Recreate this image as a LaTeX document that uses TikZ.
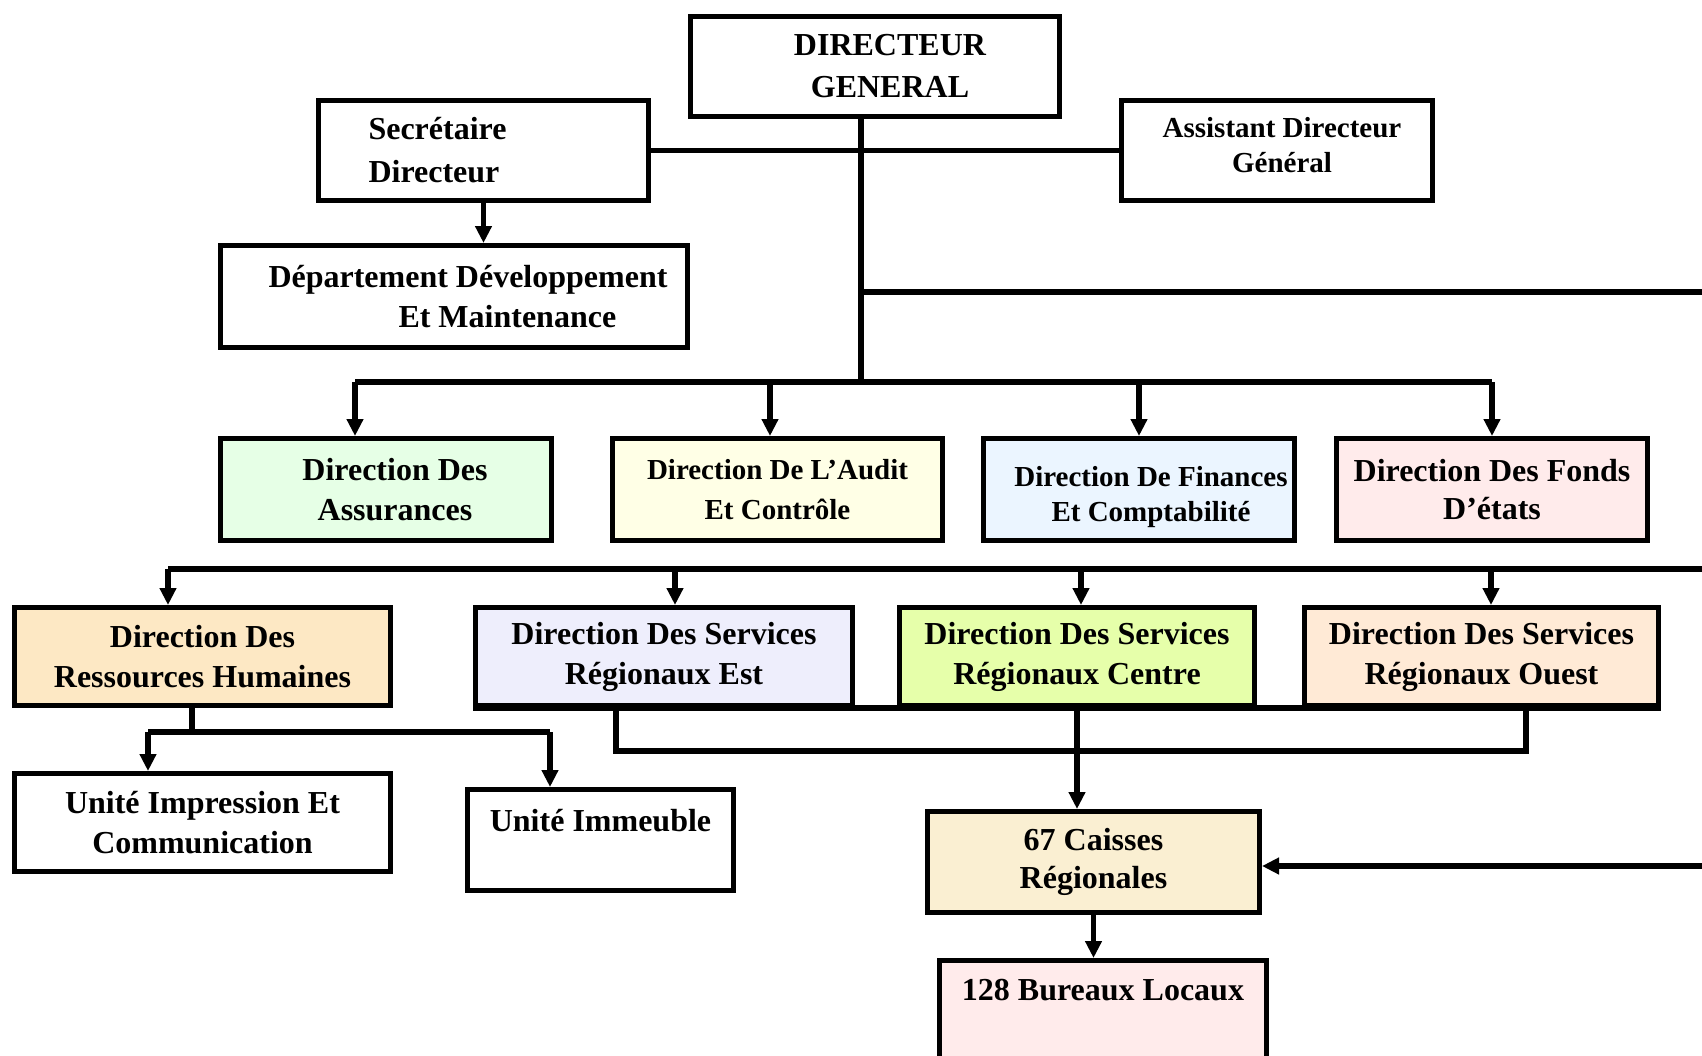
\documentclass[tikz,border=0pt]{standalone}
\usepackage{fontspec}
\setmainfont{Liberation Serif}
\usetikzlibrary{arrows.meta}

\definecolor{assGreen}{RGB}{230,255,230}
\definecolor{audYellow}{RGB}{255,255,230}
\definecolor{finBlue}{RGB}{235,245,255}
\definecolor{fonPink}{RGB}{255,235,235}
\definecolor{rhWheat}{RGB}{253,232,196}
\definecolor{estLav}{RGB}{238,238,252}
\definecolor{cenLime}{RGB}{230,255,170}
\definecolor{oueLinen}{RGB}{255,234,214}
\definecolor{caiCream}{RGB}{250,239,210}

\tikzset{
  box/.style={draw, line width=2.5pt, inner sep=0pt, align=center,
    font=\bfseries\fontsize{16}{20}\selectfont},
  smalltext/.style={font=\bfseries\fontsize{14.5}{17.5}\selectfont},
  conn/.style={line width=2.6pt},
  arr/.style={conn, -{Triangle[length=8.5pt,width=8pt]}},
}

\begin{document}
\begin{tikzpicture}[x=0.5pt,y=-0.5pt]
\useasboundingbox (0,0) rectangle (1702,1055);
\clip (0,0) rectangle (1702,1055);

% top level
\node[box, minimum width=184.5pt, minimum height=50pt, font=\bfseries\fontsize{16}{21}\selectfont] (dg) at (875,66.5)
  {\hspace*{15pt}DIRECTEUR\\\hspace*{15pt}GENERAL};
\node[box, minimum width=165pt, minimum height=50pt, align=left, text width=115pt,
  font=\bfseries\fontsize{16}{21.5}\selectfont] (sec) at (483.5,150.5) {Secrétaire\\Directeur};
\node[box, smalltext, minimum width=155.5pt, minimum height=50pt] (adg) at (1277,150.5)
  {\hspace*{5pt}Assistant Directeur\rule{0pt}{13pt}\\\hspace*{5pt}Général\rule[-9pt]{0pt}{9pt}};
\node[box, minimum width=233.5pt, minimum height=51pt, align=left] (dep) at (454,296.5)
  {\hspace*{14pt}Département Développement\\\hspace*{79pt}Et Maintenance};

% directions
\node[box, fill=assGreen, minimum width=165.5pt, minimum height=51pt] (ass) at (386,489.5)
  {\hspace*{9pt}Direction Des\\\hspace*{9pt}Assurances};
\node[box, fill=audYellow, minimum width=165pt, minimum height=51pt,
  font=\bfseries\fontsize{14.5}{20}\selectfont] (aud) at (777.5,489.5) {Direction De L’Audit\\Et Contrôle};
\node[box, smalltext, fill=finBlue, minimum width=155.5pt, minimum height=51pt] (fin) at (1139,489.5)
  {\hspace*{12pt}Direction De Finances\rule{0pt}{18pt}\\\hspace*{12pt}Et Comptabilité};
\node[box, fill=fonPink, minimum width=155.5pt, minimum height=51pt,
  font=\bfseries\fontsize{16}{19}\selectfont] (fon) at (1492,489.5) {Direction Des Fonds\\D’états};

\begin{scope}[every node/.append style={minimum height=49pt, font=\bfseries\fontsize{16}{18}\selectfont}]
\node[box, fill=rhWheat, minimum width=188pt] (rh) at (202.5,656.5) {Direction Des\\Ressources Humaines};
\node[box, fill=estLav, minimum width=188.5pt] (est) at (664,656.5) {Direction Des Services\\Régionaux Est};
\node[box, fill=cenLime, minimum width=177.5pt] (cen) at (1077,656.5) {Direction Des Services\\Régionaux Centre};
\node[box, fill=oueLinen, minimum width=177pt] (oue) at (1481.5,656.5) {Direction Des Services\\Régionaux Ouest};
\end{scope}

% units and regional offices
\node[box, minimum width=188pt, minimum height=49pt] (imp) at (202.5,822.5) {Unité Impression Et\\Communication};
\node[box, minimum width=133pt, minimum height=50.5pt] (imm) at (600.5,840) {Unité Immeuble\\~};
\node[box, fill=caiCream, minimum width=166pt, minimum height=50.5pt,
  font=\bfseries\fontsize{16}{19}\selectfont] (cai) at (1093.5,862) {67 Caisses\\Régionales};
\node[box, fill=fonPink, minimum width=163.5pt, minimum height=49.5pt] (bur) at (1103,1010) {128 Bureaux Locaux\\~};

% connectors
\coordinate (spine) at (861,382);
\draw[conn] (dg.south -| spine) -- (spine);
\draw[conn] (sec.east) -- (adg.west);
\coordinate (feedR) at (1702,292);
\draw[conn] (spine |- feedR) -- (feedR);
\draw[arr] (sec.south) -- (sec.south |- dep.north);

\coordinate (b1l) at (355,382);
\coordinate (b1a) at (770,382);
\draw[conn] (b1l) -- (fon.north |- b1l);
\draw[arr] (b1l) -- (b1l |- ass.north);
\draw[arr] (b1a) -- (b1a |- aud.north);
\draw[arr] (fin.north |- b1l) -- (fin.north);
\draw[arr] (fon.north |- b1l) -- (fon.north);

\coordinate (b2l) at (168,569);
\coordinate (b2e) at (675,569);
\coordinate (b2c) at (1081,569);
\coordinate (b2o) at (1491,569);
\coordinate (b2r) at (1702,569);
\draw[conn] (b2l) -- (b2r);
\draw[arr] (b2l) -- (b2l |- rh.north);
\draw[arr] (b2e) -- (b2e |- est.north);
\draw[arr] (b2c) -- (b2c |- cen.north);
\draw[arr] (b2o) -- (b2o |- oue.north);

\coordinate (rhl) at (148,732);
\coordinate (rhr) at (550,732);
\draw[conn] (rh.south -| 192,0) -- (192,732);
\draw[conn] (rhl) -- (rhr);
\draw[arr] (rhl) -- (rhl |- imp.north);
\draw[arr] (rhr) -- (rhr |- imm.north);

\coordinate (regl) at (616,751);
\coordinate (regr) at (1526,751);
\draw[conn] (est.south west) -- (oue.south east);
\draw[conn] (regl |- est.south) -- (regl) -- (regr) -- (regr |- oue.south);
\draw[arr] (cen.south) -- (cen.south |- cai.north);

\coordinate (inR) at (1702,866);
\draw[arr] (inR) -- (cai.east |- inR);
\draw[arr] (cai.south) -- (cai.south |- bur.north);

\end{tikzpicture}
\end{document}
